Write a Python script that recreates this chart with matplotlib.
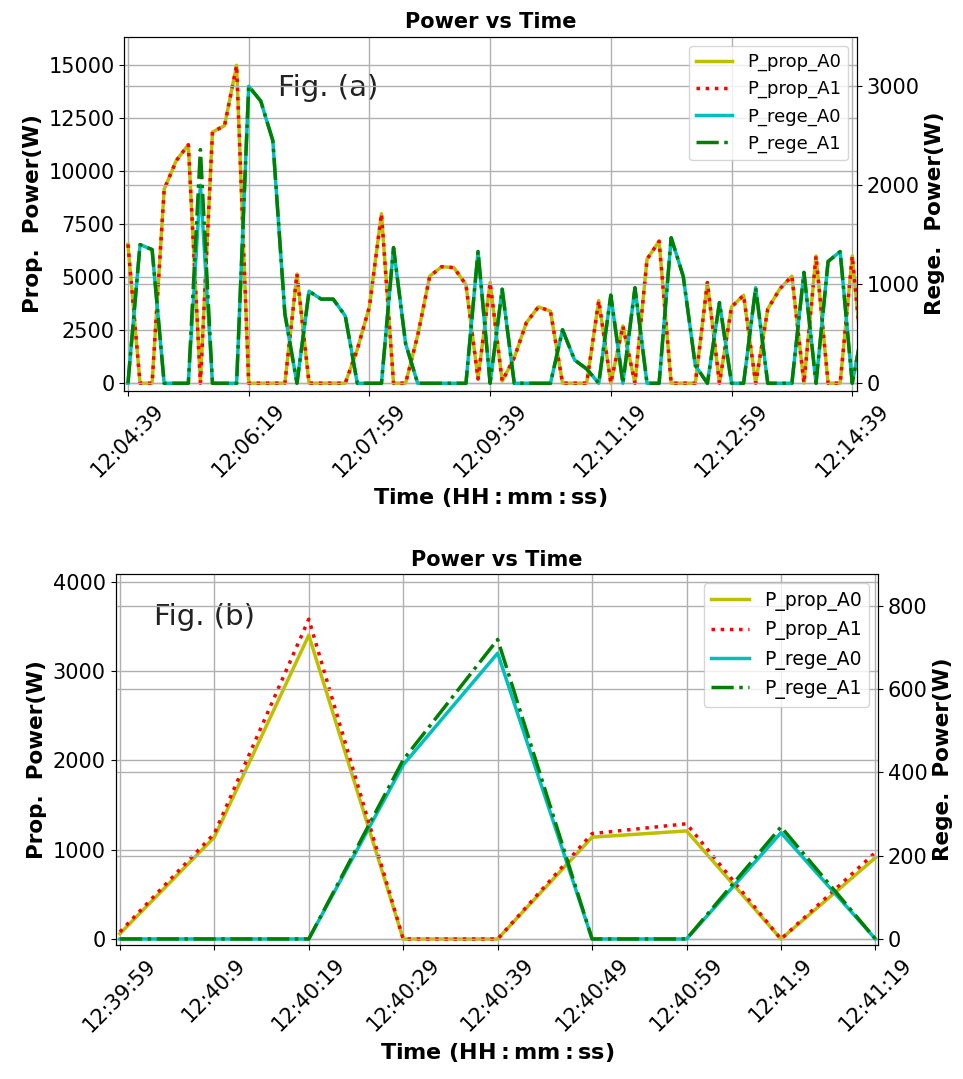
import matplotlib.pyplot as plt
import numpy as np

# ---- Fig. (a): samples every 10 s starting 12:04:39 ----
prop_a0_a = [6550, 0, 0, 9150, 10500, 11250, 0, 11850, 12150, 15000,
             0, 0, 0, 0, 5150, 0, 0, 0, 0, 1600,
             3600, 8000, 0, 0, 2250, 5050, 5500, 5450, 4650, 200,
             4750, 100, 1200, 2850, 3600, 3400, 0, 0, 0, 3900,
             0, 2700, 0, 5850, 6700, 0, 0, 0, 4750, 0,
             3600, 4150, 0, 3500, 4450, 5050, 0, 6000, 0, 0,
             6000, 0]
prop_a1_a = list(prop_a0_a)
rege_a1_a = [0, 1400, 1350, 0, 0, 0, 2360, 0, 0, 0,
             3000, 2850, 2450, 700, 0, 930, 850, 850, 680, 0,
             0, 0, 1370, 400, 0, 0, 0, 0, 0, 1330,
             0, 950, 0, 0, 0, 0, 540, 235, 145, 0,
             890, 0, 965, 0, 0, 1470, 1080, 180, 0, 815,
             0, 0, 965, 0, 0, 0, 1120, 0, 1230, 1330,
             0, 650]
rege_a0_a = list(rege_a1_a)
rege_a0_a[6] = 2000
ticks_a = ['12:04:39', '12:06:19', '12:07:59', '12:09:39',
           '12:11:19', '12:12:59', '12:14:39']

# ---- Fig. (b): samples every 10 s starting 12:39:59 ----
prop_a0_b = [60, 1140, 3400, 0, 0, 1140, 1210, 0, 910]
prop_a1_b = [80, 1180, 3580, 0, 0, 1180, 1290, 0, 970]
rege_a0_b = [0, 0, 0, 418, 686, 0, 0, 255, 0]
rege_a1_b = [0, 0, 0, 430, 719, 0, 0, 269, 0]
ticks_b = ['12:39:59', '12:40:9', '12:40:19', '12:40:29', '12:40:39',
           '12:40:49', '12:40:59', '12:41:9', '12:41:19']

labels = ['P_prop_A0', 'P_prop_A1', 'P_rege_A0', 'P_rege_A1']

fig = plt.figure(figsize=(9.63, 10.79), dpi=100)


def panel(rect, p0, p1, r0, r1, ticks, tick_step, xlim, ylim_l, ylim_r,
          yt_l, yt_r, tag, tag_xy, leg_fs):
    ax = fig.add_axes(rect)
    ax2 = ax.twinx()
    t = np.arange(len(p0)) * 10
    h1, = ax.plot(t, p0, color='y', lw=2.5)
    h2, = ax.plot(t, p1, color='r', ls=':', lw=2.5)
    h3, = ax2.plot(t, r0, color='c', lw=2.5)
    h4, = ax2.plot(t, r1, color='g', ls='-.', lw=2.5)

    ax.set_xlim(*xlim)
    ax.set_xticks(np.arange(len(ticks)) * tick_step)
    ax.set_xticklabels(ticks, rotation=45, fontsize=15)
    ax.set_ylim(*ylim_l)
    ax.set_yticks(yt_l)
    ax2.set_ylim(*ylim_r)
    ax2.set_yticks(yt_r)
    ax.tick_params(axis='y', labelsize=15)
    ax2.tick_params(axis='y', labelsize=15)
    ax.grid(True, color='#b0b0b0', lw=1)
    ax2.grid(True, color='#b0b0b0', lw=1)

    ax.set_title('Power vs Time', fontsize=15, fontweight='bold')
    ax.set_xlabel(r'Time ($\mathbf{HH:mm:ss}$)', fontsize=16, fontweight='bold')
    ax.set_ylabel('Prop.  Power(W)', fontsize=15.5, fontweight='bold')
    ax2.set_ylabel('Rege.  Power(W)', fontsize=15.5, fontweight='bold')
    ax.text(tag_xy[0], tag_xy[1], tag, transform=ax.transAxes,
            fontsize=21, va='center', color='#222222')
    ax2.legend([h1, h2, h3, h4], labels, loc='upper right', fontsize=leg_fs)
    return ax, ax2


panel([0.129, 0.638, 0.761, 0.328], prop_a0_a, prop_a1_a, rege_a0_a, rege_a1_a,
      ticks_a, 100, (-3.1, 604), (-350, 16350), (-74, 3500),
      [0, 2500, 5000, 7500, 10000, 12500, 15000], [0, 1000, 2000, 3000],
      'Fig. (a)', (0.21, 0.856), 13)

panel([0.12, 0.124, 0.792, 0.344], prop_a0_b, prop_a1_b, rege_a0_b, rege_a1_b,
      ticks_b, 10, (-0.46, 80.3), (-69, 4085), (-15, 876),
      [0, 1000, 2000, 3000, 4000], [0, 200, 400, 600, 800],
      'Fig. (b)', (0.05, 0.884), 13.5)

fig.savefig('out.png', dpi=100)
